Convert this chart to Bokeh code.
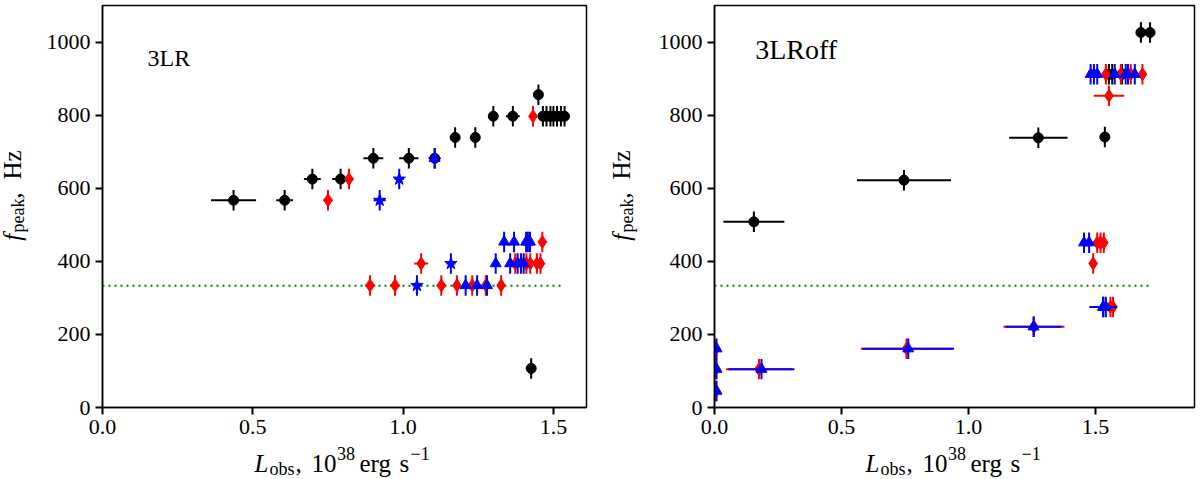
import numpy as np
from math import pi

from bokeh.core.properties import value
from bokeh.embed import file_html
from bokeh.layouts import column, row
from bokeh.models import FixedTicker, PrintfTickFormatter
from bokeh.plotting import figure
from bokeh.resources import INLINE

FONT = "Liberation Serif"

X_TICKS = [0.0, 0.5, 1.0, 1.5]
Y_TICKS = [0, 200, 400, 600, 800, 1000]
Y_ERR = 28          # Hz, same for every point
F_LINE = 333        # green dotted level, Hz

# ---- 3LR (left panel) ----
l_black_x = [0.436, 0.606, 0.698, 0.792, 0.901, 1.019, 1.105, 1.173, 1.240, 1.300,
             1.365, 1.450, 1.465, 1.477, 1.490, 1.500, 1.512, 1.525, 1.537, 1.426]
l_black_y = [567, 567, 625, 625, 682, 682, 682, 739, 739, 797,
             797, 856, 797, 797, 797, 797, 797, 797, 797, 107]
l_black_xerr = [0.075, 0.028, 0.028, 0.028, 0.033, 0.032, 0.02, 0.012, 0.012, 0.01,
                0.023, 0.01, 0.005, 0.005, 0.005, 0.005, 0.005, 0.005, 0.005, 0.005]

l_red_x = [0.750, 0.820, 1.432, 1.463, 0.890, 0.973, 1.127, 1.179, 1.230, 1.275,
           1.326, 1.060, 1.373, 1.410, 1.423, 1.445, 1.457]
l_red_y = [567, 625, 797, 453, 334, 334, 334, 334, 334, 334,
           334, 394, 394, 394, 394, 394, 394]
l_red_xerr = [0.015, 0.015, 0.01, 0.01, 0.017, 0.017, 0.015, 0.012, 0.01, 0.01,
              0.012, 0.023, 0.01, 0.01, 0.01, 0.01, 0.01]

l_star_x = [0.922, 0.987, 1.046, 1.159]
l_star_y = [567, 625, 334, 394]
l_star_xerr = [0.02, 0.015, 0.015, 0.015]

l_tri_x = [1.105, 1.208, 1.246, 1.279, 1.308, 1.356, 1.381, 1.392, 1.401,
           1.336, 1.369, 1.409, 1.415, 1.422]
l_tri_y = [682, 334, 334, 334, 394, 394, 394, 394, 394,
           453, 453, 453, 453, 453]
l_tri_xerr = [0.01, 0.01, 0.01, 0.01, 0.01, 0.01, 0.005, 0.005, 0.005,
              0.01, 0.01, 0.005, 0.005, 0.005]

# ---- 3LRoff (right panel) ----
r_black_x = [0.155, 0.746, 1.275, 1.537, 1.553, 1.566, 1.605, 1.679, 1.715]
r_black_y = [508, 622, 738, 740, 912, 912, 912, 1026, 1026]
r_black_xerr = [0.12, 0.185, 0.115, 0.005, 0.005, 0.005, 0.005, 0.005, 0.005]

r_red_x = [0.175, 0.756, 1.258, 0.005, 0.005, 0.005, 1.491, 1.507, 1.520, 1.533,
           1.559, 1.569, 1.553, 1.541, 1.600, 1.639, 1.685]
r_red_y = [105, 161, 221, 161, 105, 45, 394, 451, 451, 451,
           275, 275, 853, 912, 912, 912, 912]
r_red_xerr = [0.13, 0.18, 0.12, 0.005, 0.005, 0.005, 0.005, 0.005, 0.005, 0.005,
              0.01, 0.01, 0.06, 0.005, 0.005, 0.005, 0.005]

r_tri_x = [0.185, 0.763, 1.256, 0.008, 0.008, 0.008, 1.455, 1.475, 1.530, 1.531,
           1.541, 1.481, 1.494, 1.507, 1.576, 1.619, 1.628, 1.655]
r_tri_y = [105, 161, 221, 161, 105, 45, 451, 451, 275, 275,
           275, 912, 912, 912, 912, 912, 912, 912]
r_tri_xerr = [0.13, 0.18, 0.11, 0.005, 0.005, 0.005, 0.005, 0.005, 0.054, 0.005,
              0.005, 0.005, 0.005, 0.005, 0.005, 0.005, 0.005, 0.005]

MAIN_H = 441   # height of each data figure
XLAB_H = 36    # strip under each panel holding the x label


def make_fig(width, x_end, left, right):
    p = figure(width=width, height=MAIN_H, x_range=(0, x_end), y_range=(0, 1100),
               output_backend="svg", toolbar_location=None,
               min_border_left=left, min_border_right=right,
               min_border_top=5, min_border_bottom=34)
    p.grid.visible = False
    p.outline_line_color = "black"
    p.outline_line_alpha = 1.0
    p.outline_line_width = 1.5
    for ax in (p.xaxis[0], p.yaxis[0]):
        ax.axis_line_width = 1.5
        ax.major_tick_line_width = 2
        ax.major_tick_out = 7
        ax.major_tick_in = 0
        ax.minor_tick_out = 0
        ax.minor_tick_in = 0
        ax.major_label_text_font = FONT
        ax.major_label_text_font_size = "22px"
        ax.major_label_text_color = "black"
        ax.major_label_standoff = 5
    p.xaxis.ticker = FixedTicker(ticks=X_TICKS)
    p.xaxis.formatter = PrintfTickFormatter(format="%.1f")
    p.yaxis.ticker = FixedTicker(ticks=Y_TICKS)
    return p


def text_fig(width, height, x0):
    f = figure(width=width, height=height, x_range=(x0, x0 + width), y_range=(0, height),
               output_backend="svg", toolbar_location=None, min_border=0,
               x_axis_location=None, y_axis_location=None, outline_line_color=None)
    f.grid.visible = False
    return f


def piece(f, text, x, y, size, italic=False, angle=0.0):
    f.text(x=[x], y=[y], text=[text], text_font=value(FONT), text_font_size=f"{size}px",
           text_font_style="italic" if italic else "normal", angle=angle,
           text_baseline="alphabetic", text_align="left", text_color="black")


def x_label(f, s):
    # L_obs, 10^38 erg s^-1 ; y measured up from the strip bottom
    b = 14
    piece(f, "L", s, b, 25, italic=True)
    piece(f, "obs", s + 15, b - 5, 18)
    piece(f, ",", s + 41, b, 25)
    piece(f, "10", s + 57, b, 25)
    piece(f, "38", s + 82.5, b + 10, 18)
    piece(f, "erg", s + 105, b, 25)
    piece(f, "s", s + 145, b, 25)
    piece(f, "\u22121", s + 156, b + 10, 18)


def y_label(f, xb):
    # f_peak, Hz written upwards; text starts 258 px from the top
    b = MAIN_H - 258
    piece(f, "f", xb, b, 25, italic=True, angle=pi / 2)
    piece(f, "peak", xb + 5, b + 9, 18, angle=pi / 2)
    piece(f, ",", xb, b + 46, 25, angle=pi / 2)
    piece(f, "Hz", xb, b + 67, 25, angle=pi / 2)


def draw(p, xs, ys, xerr, color, marker, size):
    x = np.array(xs)
    y = np.array(ys)
    e = np.array(xerr)
    p.segment(x - e, y, x + e, y, line_color=color, line_width=2)
    p.segment(x, y - Y_ERR, x, y + Y_ERR, line_color=color, line_width=2)
    p.scatter(x, y, marker=marker, size=size, fill_color=color, line_color=color)


# left panel
p1 = make_fig(564, 1.61, 66, 14)
p1.line([0, max(l_black_x + l_red_x + l_star_x + l_tri_x)], [F_LINE, F_LINE],
        line_color="green", line_width=2, line_dash="2 4")
draw(p1, l_black_x, l_black_y, l_black_xerr, "black", "circle", 10)
draw(p1, l_red_x, l_red_y, l_red_xerr, "red", "diamond", 13)
draw(p1, l_star_x, l_star_y, l_star_xerr, "blue", "star", 13)
draw(p1, l_tri_x, l_tri_y, l_tri_xerr, "blue", "triangle", 11)
p1.text(x=[0.15], y=[957], text=["3LR"], text_font=value(FONT),
        text_font_size="24px", text_baseline="alphabetic", text_color="black")

ylab1 = text_fig(36, MAIN_H, 0)
y_label(ylab1, 12)
xlab1 = text_fig(600, XLAB_H, 0)
x_label(xlab1, 254)

# right panel
p2 = make_fig(546, 1.89, 64, 2)
p2.line([0, max(r_black_x + r_red_x + r_tri_x)], [F_LINE, F_LINE],
        line_color="green", line_width=2, line_dash="2 4")
draw(p2, r_black_x, r_black_y, r_black_xerr, "black", "circle", 10)
draw(p2, r_red_x, r_red_y, r_red_xerr, "red", "diamond", 13)
draw(p2, r_tri_x, r_tri_y, r_tri_xerr, "blue", "triangle", 11)
p2.text(x=[0.16], y=[979], text=["3LRoff"], text_font=value(FONT),
        text_font_size="28px", text_baseline="alphabetic", text_color="black")

ylab2 = text_fig(50, MAIN_H, 600)
y_label(ylab2, 621)
xlab2 = text_fig(596, XLAB_H, 600)
x_label(xlab2, 865)

layout = row(column(row(ylab1, p1), xlab1), column(row(ylab2, p2), xlab2))
open("out.html", "w").write(file_html(layout, INLINE))
